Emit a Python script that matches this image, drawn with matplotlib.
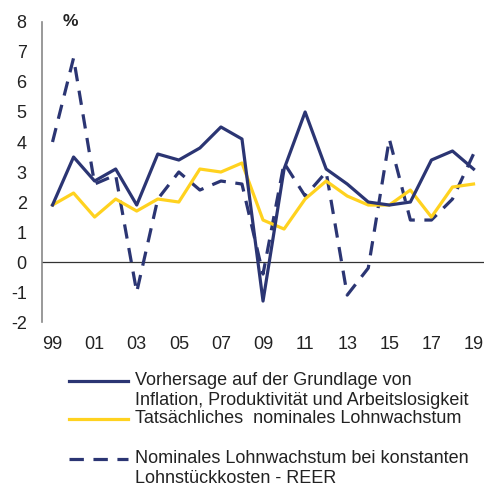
import numpy as np
import matplotlib
matplotlib.use("Agg")
import matplotlib.pyplot as plt
from matplotlib.lines import Line2D

# Daten (Prozent), 1999-2019
jahre = list(range(1999, 2020))
vorhersage = [1.9, 3.5, 2.7, 3.1, 1.9, 3.6, 3.4, 3.8, 4.5, 4.1, -1.3, 3.1, 5.0,
              3.1, 2.6, 2.0, 1.9, 2.0, 3.4, 3.7, 3.1]
tatsaechlich = [1.9, 2.3, 1.5, 2.1, 1.7, 2.1, 2.0, 3.1, 3.0, 3.3, 1.4, 1.1, 2.1,
                2.7, 2.2, 1.9, 1.9, 2.4, 1.5, 2.5, 2.6]
konstant_lsk = [4.0, 6.8, 2.6, 2.9, -1.0, 2.1, 3.0, 2.4, 2.7, 2.6, -0.4, 3.3, 2.2,
                3.0, -1.1, -0.2, 4.1, 1.4, 1.4, 2.1, 3.6]
xtick_jahre = jahre[::2]
xtick_labels = ["%02d" % (j % 100) for j in xtick_jahre]

labels = ["Vorhersage auf der Grundlage von\nInflation, Produktivität und Arbeitslosigkeit",
          "Tatsächliches  nominales Lohnwachstum",
          "Nominales Lohnwachstum bei konstanten\nLohnstückkosten - REER"]

blau = "#2B3573"
gelb = "#FFD21F"

plt.rcParams['font.family'] = ['Liberation Sans', 'DejaVu Sans']
plt.rcParams['axes.unicode_minus'] = False

fig = plt.figure(figsize=(4.86, 4.88), dpi=100)
ax = fig.add_axes([0.0864, 0.340, 0.9096, 0.615])

ax.plot(jahre, konstant_lsk, color=blau, lw=2.3, dashes=(4.5, 3))
ax.plot(jahre, tatsaechlich, color=gelb, lw=2.3)
ax.plot(jahre, vorhersage, color=blau, lw=2.3)

ax.axhline(0, color="#333333", lw=0.9, zorder=0)

ax.set_xlim(1998.5, 2019.5)
ax.set_ylim(-2, 8)
ax.set_yticks(range(-2, 9))
ax.set_xticks(xtick_jahre)
ax.set_xticklabels(xtick_labels)
ax.tick_params(axis='both', length=0, labelsize=13, colors="#222222")
ax.tick_params(axis='y', pad=11)
ax.tick_params(axis='x', pad=10)

for s in ["top", "right", "bottom"]:
    ax.spines[s].set_visible(False)
ax.spines["left"].set_color("#888888")
ax.spines["left"].set_linewidth(1.2)

fig.text(70 / 486, 1 - 22 / 488, "%", fontsize=12.5, fontweight="bold",
         color="#222222", ha="center", va="center")

# Legende manuell
eintraege = [(380.7, dict(color=blau, lw=2.3)),
             (419.3, dict(color=gelb, lw=2.3)),
             (459.3, dict(color=blau, lw=2.3, dashes=(4.5, 3)))]
for (y, stil), text in zip(eintraege, labels):
    yf = 1 - y / 488
    fig.add_artist(Line2D([69 / 486, 128 / 486], [yf, yf], transform=fig.transFigure, **stil))
    fig.text(135 / 486, yf + 9 / 488, text, fontsize=13, color="#222222",
             ha="left", va="top", linespacing=1.22)

fig.savefig("out.png", dpi=100)
